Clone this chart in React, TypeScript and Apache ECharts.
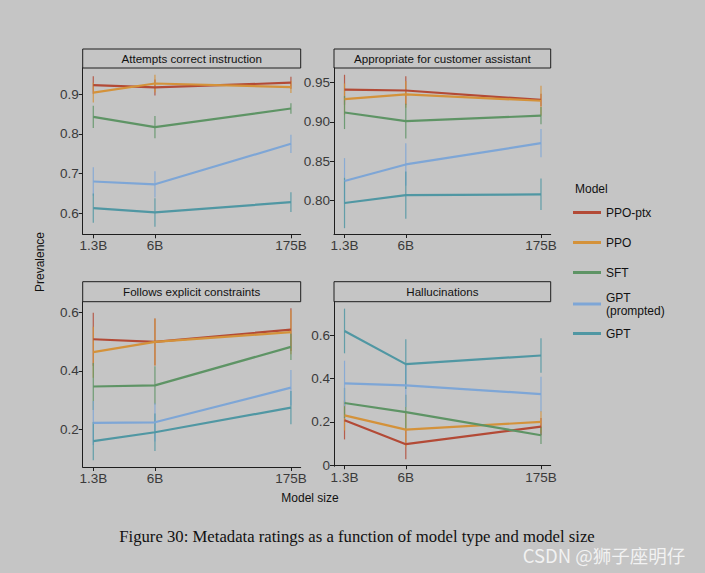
import React, { useEffect, useRef } from "react";
import * as echarts from "echarts";

const sizes = [1.3, 6, 175];
const sizeLabels = ["1.3B", "6B", "175B"];
const models = ["PPO-ptx", "PPO", "SFT", "GPT (prompted)", "GPT"];
const colors = ["#b34a36", "#d4923a", "#5e9465", "#7ea6d6", "#5097a3"];
const panelTitles = [
  "Attempts correct instruction",
  "Appropriate for customer assistant",
  "Follows explicit constraints",
  "Hallucinations",
];

// values per model: [1.3B, 6B, 175B]
const attemptsValues = [
  [0.923, 0.917, 0.929],
  [0.904, 0.927, 0.918],
  [0.843, 0.817, 0.864],
  [0.68, 0.673, 0.775],
  [0.613, 0.602, 0.628],
];
const attemptsErr = [
  [0.022, 0.02, 0.015],
  [0.025, 0.022, 0.015],
  [0.028, 0.028, 0.013],
  [0.036, 0.033, 0.023],
  [0.037, 0.036, 0.025],
];
const appropriateValues = [
  [0.941, 0.94, 0.928],
  [0.929, 0.935, 0.927],
  [0.912, 0.901, 0.908],
  [0.825, 0.846, 0.873],
  [0.797, 0.807, 0.808],
];
const appropriateErr = [
  [0.019, 0.018, 0.008],
  [0.02, 0.017, 0.019],
  [0.021, 0.022, 0.011],
  [0.029, 0.027, 0.018],
  [0.032, 0.03, 0.02],
];
const constraintsValues = [
  [0.508, 0.499, 0.541],
  [0.464, 0.499, 0.532],
  [0.347, 0.351, 0.482],
  [0.223, 0.225, 0.343],
  [0.161, 0.191, 0.275],
];
const constraintsErr = [
  [0.09, 0.08, 0.073],
  [0.087, 0.08, 0.075],
  [0.08, 0.065, 0.045],
  [0.075, 0.065, 0.06],
  [0.065, 0.064, 0.057],
];
const hallucValues = [
  [0.207, 0.097, 0.178],
  [0.23, 0.164, 0.2],
  [0.287, 0.245, 0.138],
  [0.377, 0.368, 0.328],
  [0.619, 0.466, 0.506],
];
const hallucErr = [
  [0.088, 0.07, 0.04],
  [0.07, 0.08, 0.05],
  [0.07, 0.08, 0.04],
  [0.105, 0.1, 0.08],
  [0.103, 0.115, 0.08],
];

const yTicks = [
  [0.6, 0.7, 0.8, 0.9],
  [0.8, 0.85, 0.9, 0.95],
  [0.2, 0.4, 0.6],
  [0, 0.2, 0.4, 0.6],
];
const yTickLabels = [
  ["0.6", "0.7", "0.8", "0.9"],
  ["0.80", "0.85", "0.90", "0.95"],
  ["0.2", "0.4", "0.6"],
  ["0", "0.2", "0.4", "0.6"],
];
const yRanges = [
  [0.547, 0.966],
  [0.7576, 0.9686],
  [0.0727, 0.636],
  [-0.005, 0.754],
];

const panelValues = [attemptsValues, appropriateValues, constraintsValues, hallucValues];
const panelErr = [attemptsErr, appropriateErr, constraintsErr, hallucErr];

const BG = "#c5c5c5";
const INK = "#1e1e1e";
const FONT = "'Liberation Sans', Arial, sans-serif";

const grids = [
  { left: 82.7, top: 68, width: 218, height: 166.3 },
  { left: 334, top: 68, width: 216.7, height: 166 },
  { left: 82.7, top: 301.7, width: 218, height: 165.3 },
  { left: 334, top: 301.7, width: 216.7, height: 164.6 },
];
const strips = [
  { x: 82.7, y: 49, w: 218, h: 19 },
  { x: 334, y: 49, w: 216.7, h: 19 },
  { x: 82.7, y: 281.7, w: 218, h: 20 },
  { x: 334, y: 281.7, w: 216.7, h: 20 },
];
const legendTops = [206, 236, 266, 291, 327];

function nearestLabel(v: number, vals: number[], labels: string[]) {
  let best = 0;
  for (let i = 1; i < vals.length; i++) {
    if (Math.abs(vals[i] - v) < Math.abs(vals[best] - v)) best = i;
  }
  return labels[best];
}

export default function App() {
  const ref = useRef<HTMLDivElement>(null);
  useEffect(() => {
    if (!ref.current) return;
    const chart = echarts.init(ref.current, null, { renderer: "svg" });

    const xAxes: any[] = [];
    const yAxes: any[] = [];
    const series: any[] = [];
    const graphic: any[] = [];

    grids.forEach((g, p) => {
      xAxes.push({
        type: "log",
        logBase: 10,
        gridIndex: p,
        min: 1,
        max: 223,
        axisLine: { show: true, lineStyle: { color: INK, width: 1 } },
        axisTick: { show: true, length: 4, customValues: sizes, lineStyle: { color: INK } },
        axisLabel: {
          customValues: sizes,
          formatter: (v: number) => nearestLabel(v, sizes, sizeLabels),
          color: "#3a3a3a",
          fontSize: 13.5,
          fontFamily: FONT,
          margin: 4,
        },
        splitLine: { show: false },
        minorTick: { show: false },
      });
      yAxes.push({
        type: "value",
        gridIndex: p,
        min: yRanges[p][0],
        max: yRanges[p][1],
        axisLine: { show: true, lineStyle: { color: INK, width: 1 } },
        axisTick: { show: true, length: 4, customValues: yTicks[p], lineStyle: { color: INK } },
        axisLabel: {
          customValues: yTicks[p],
          formatter: (v: number) => nearestLabel(v, yTicks[p], yTickLabels[p]),
          color: "#3a3a3a",
          fontSize: 13.5,
          fontFamily: FONT,
          margin: 4,
        },
        splitLine: { show: false },
      });

      models.forEach((m, i) => {
        const vals = panelValues[p][i];
        const errs = panelErr[p][i];
        series.push({
          name: m,
          type: "line",
          xAxisIndex: p,
          yAxisIndex: p,
          data: sizes.map((s, k) => [s, vals[k]]),
          showSymbol: false,
          symbol: "none",
          color: colors[i],
          lineStyle: { color: colors[i], width: 2.2 },
          itemStyle: { color: colors[i] },
          z: 3,
        });
        series.push({
          name: m,
          type: "custom",
          xAxisIndex: p,
          yAxisIndex: p,
          color: colors[i],
          itemStyle: { color: colors[i] },
          data: sizes.map((s, k) => [s, vals[k] - errs[k], vals[k] + errs[k]]),
          encode: { x: 0, y: [1, 2] },
          renderItem: (params: any, api: any) => {
            const x = api.value(0);
            const a = api.coord([x, api.value(1)]);
            const b = api.coord([x, api.value(2)]);
            return {
              type: "line",
              shape: { x1: a[0], y1: a[1], x2: b[0], y2: b[1] },
              style: { stroke: colors[i], lineWidth: 1.2, opacity: 0.85 },
            };
          },
          z: 2,
        });
      });

      const st = strips[p];
      graphic.push({
        type: "rect",
        shape: { x: st.x, y: st.y, width: st.w, height: st.h },
        style: { fill: BG, stroke: INK, lineWidth: 1 },
      });
      graphic.push({
        type: "text",
        x: st.x + st.w / 2,
        y: st.y + st.h / 2,
        style: {
          text: panelTitles[p],
          fill: "#111",
          font: `11.6px ${FONT}`,
          textAlign: "center",
          textVerticalAlign: "middle",
        },
      });
    });

    graphic.push({
      type: "text",
      x: 40,
      y: 262,
      rotation: Math.PI / 2,
      style: {
        text: "Prevalence",
        fill: "#111",
        font: `12px ${FONT}`,
        textAlign: "center",
        textVerticalAlign: "middle",
      },
    });
    graphic.push({
      type: "text",
      x: 310,
      y: 498,
      style: {
        text: "Model size",
        fill: "#111",
        font: `12px ${FONT}`,
        textAlign: "center",
        textVerticalAlign: "middle",
      },
    });
    graphic.push({
      type: "text",
      x: 575,
      y: 189,
      style: {
        text: "Model",
        fill: "#111",
        font: `12px ${FONT}`,
        textAlign: "left",
        textVerticalAlign: "middle",
      },
    });
    graphic.push({
      type: "text",
      x: 357,
      y: 536,
      style: {
        text: "Figure 30: Metadata ratings as a function of model type and model size",
        fill: "#111",
        font: `16.7px 'Liberation Serif', 'Times New Roman', serif`,
        textAlign: "center",
        textVerticalAlign: "middle",
      },
    });
    graphic.push({
      type: "text",
      x: 604,
      y: 555,
      style: {
        text: "CSDN @狮子座明仔",
        fill: "rgba(255,255,255,0.78)",
        font: `18.5px 'Noto Sans CJK SC', sans-serif`,
        textAlign: "center",
        textVerticalAlign: "middle",
      },
    });

    const legends = models.map((m, i) => ({
      show: true,
      data: [m],
      left: 573,
      top: legendTops[i],
      padding: 0,
      orient: "vertical",
      icon: "rect",
      itemWidth: 28,
      itemHeight: 3,
      selectedMode: false,
      itemStyle: { color: colors[i] },
      formatter: (n: string) => (n === "GPT (prompted)" ? "GPT\n(prompted)" : n),
      textStyle: {
        color: "#111",
        fontSize: 12,
        fontFamily: FONT,
        lineHeight: 13,
      },
    }));

    chart.setOption({
      animation: false,
      backgroundColor: BG,
      textStyle: { fontFamily: FONT },
      grid: grids,
      xAxis: xAxes,
      yAxis: yAxes,
      legend: legends,
      series,
      graphic,
    });
    return () => chart.dispose();
  }, []);
  return (
    <div
      ref={ref}
      style={{ position: "fixed", left: 0, top: 0, width: 705, height: 573, background: BG }}
    />
  );
}
